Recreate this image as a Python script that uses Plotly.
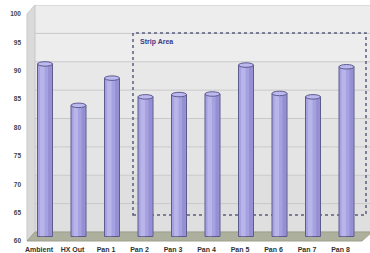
import plotly.graph_objects as go

categories = ["Ambient", "HX Out", "Pan 1", "Pan 2", "Pan 3", "Pan 4", "Pan 5", "Pan 6", "Pan 7", "Pan 8"]
values = [91.2, 83.9, 88.7, 85.4, 85.8, 85.9, 91.0, 86.0, 85.4, 90.7]
y_ticks = [60, 65, 70, 75, 80, 85, 90, 95, 100]
strip_label = "Strip Area"

W, H = 370, 253
L, R, T, B = 27, 368, 5, 241
DEPTH_X, DEPTH_Y = 8, 9
Y0, Y1 = 60, 100
px_per_unit = (B - 14) / (Y1 - Y0)
y_top = Y0 + (B - T) / px_per_unit
cat_px = 33.5
x_first = 39
x_lo = (L - x_first) / cat_px
x_hi = (R - x_first) / cat_px
depth_units_x = 6 / cat_px
depth_units_y = DEPTH_Y / px_per_unit


def px(x):
    return (x - L) / (R - L)


def py(y):
    return (B - y) / (B - T)


xs = list(range(len(categories)))
bar_w = 15 / cat_px
base = Y0 + 4.5 / px_per_unit

shapes = []
# back wall in bands (gradient)
bands = ["#ededed", "#e8e8e8", "#e4e4e4", "#dfdfdf"]
top_y, bot_y = T, B - DEPTH_Y
for k, c in enumerate(bands):
    ya = top_y + (bot_y - top_y) * k / len(bands)
    yb = top_y + (bot_y - top_y) * (k + 1) / len(bands)
    shapes.append(dict(type="rect", xref="paper", yref="paper", x0=px(L + DEPTH_X), x1=px(W + 2),
                       y0=py(yb), y1=py(ya), fillcolor=c, line_width=0, layer="below"))
# gridlines on back wall
for t in y_ticks:
    shapes.append(dict(type="line", xref="paper", yref="y", x0=px(L + DEPTH_X), x1=px(W + 2),
                       y0=t + depth_units_y, y1=t + depth_units_y,
                       line=dict(color="#c9c9c9", width=1), layer="below"))
# left wall
shapes.append(dict(type="path", xref="paper", yref="paper",
                   path=f"M {px(L)} {py(14)} L {px(L+DEPTH_X)} {py(T)} L {px(L+DEPTH_X)} {py(B-DEPTH_Y)} L {px(L)} {py(B)} Z",
                   fillcolor="#dadada", line=dict(color="#c8c8c8", width=1), layer="below"))
# floor
shapes.append(dict(type="path", xref="paper", yref="paper",
                   path=f"M {px(L)} {py(B)} L {px(L+DEPTH_X)} {py(B-DEPTH_Y)} L {px(W+2)} {py(B-DEPTH_Y)} L {px(W-8)} {py(B)} Z",
                   fillcolor="#adb09c", line=dict(color="#9da08c", width=1), layer="below"))
# strip area dashed box
shapes.append(dict(type="rect", xref="paper", yref="paper", x0=px(133), x1=px(366), y0=py(215), y1=py(33),
                   line=dict(color="#5a5d7e", width=1.5, dash="dot"), fillcolor="rgba(0,0,0,0)", layer="below"))
# cylinder tops
ell_h = 4.5 / px_per_unit
for x, v in zip(xs, values):
    cx = x + depth_units_x
    shapes.append(dict(type="circle", xref="x", yref="y", x0=cx - bar_w / 2, x1=cx + bar_w / 2,
                       y0=v - ell_h / 2, y1=v + ell_h / 2,
                       fillcolor="#bcb8f0", line=dict(color="#5d5b8c", width=1), layer="above"))

fig = go.Figure()
fig.add_trace(go.Bar(x=[x + depth_units_x for x in xs], y=[v - base for v in values], base=base,
                     width=bar_w, marker=dict(color="#a6a1e2", line=dict(color="#5d5b8c", width=1)),
                     hoverinfo="skip"))
fig.add_trace(go.Bar(x=[x + depth_units_x - bar_w * 0.18 for x in xs], y=[v - base for v in values], base=base,
                     width=bar_w * 0.3, marker=dict(color="rgba(255,255,255,0.22)", line_width=0),
                     hoverinfo="skip"))
fig.add_trace(go.Bar(x=[x + depth_units_x + bar_w * 0.33 for x in xs], y=[v - base for v in values], base=base,
                     width=bar_w * 0.25, marker=dict(color="rgba(60,50,120,0.15)", line_width=0),
                     hoverinfo="skip"))

fig.add_annotation(xref="paper", yref="paper", x=px(138), y=py(42), text=f"<b>{strip_label}</b>",
                   showarrow=False, xanchor="left", yanchor="middle",
                   font=dict(family="Liberation Sans, Arial", size=7, color="#3b3b86"))

fig.update_layout(
    width=W, height=H, margin=dict(l=L, r=W - R, t=T, b=H - B, autoexpand=False),
    paper_bgcolor="white", plot_bgcolor="rgba(0,0,0,0)",
    showlegend=False, barmode="overlay", shapes=shapes,
    xaxis=dict(range=[x_lo, x_hi], tickvals=xs, ticktext=[f"<b>{c}</b>" for c in categories],
               showgrid=False, zeroline=False, showline=False, ticks="", automargin=False,
               tickfont=dict(family="Liberation Sans, Arial", size=7, color="#333333"),
               ticklabelstandoff=3, fixedrange=True),
    yaxis=dict(range=[Y0, y_top], tickvals=y_ticks, ticktext=[f"<b>{t}</b>" for t in y_ticks],
               showgrid=False, zeroline=False, showline=False, ticks="", automargin=False,
               tickfont=dict(family="Liberation Sans, Arial", size=6.5, color="#444444"),
               ticklabelstandoff=5, fixedrange=True),
)

fig.write_html("out.html", config={"displayModeBar": False},
               post_script="document.body.style.margin='0';document.body.style.overflow='hidden';")
